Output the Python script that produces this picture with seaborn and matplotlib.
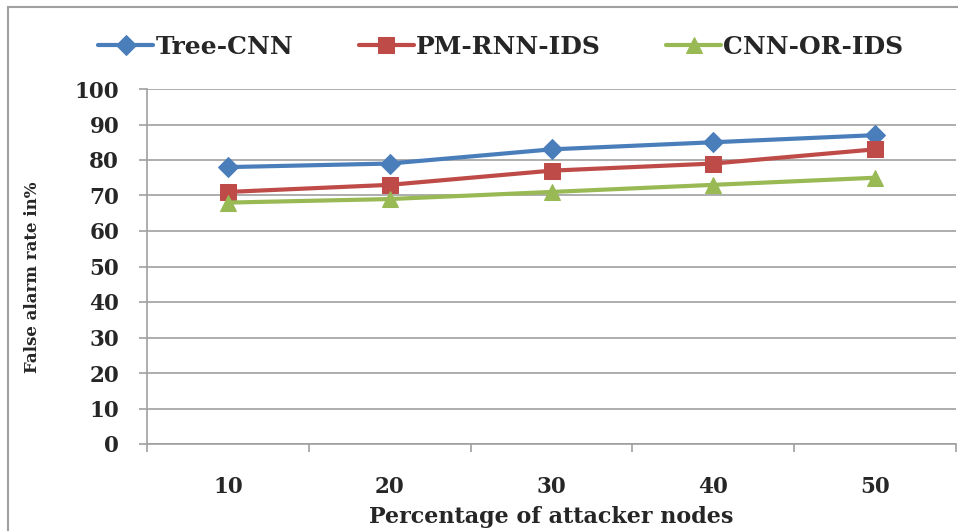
import matplotlib
matplotlib.use("Agg")
import matplotlib.pyplot as plt
import seaborn as sns
import pandas as pd
from matplotlib.patches import Rectangle

categories = ["10", "20", "30", "40", "50"]
tree_cnn = [78, 79, 83, 85, 87]
pm_rnn_ids = [71, 73, 77, 79, 83]
cnn_or_ids = [68, 69, 71, 73, 75]
series_names = ["Tree-CNN", "PM-RNN-IDS", "CNN-OR-IDS"]
y_ticks = [0, 10, 20, 30, 40, 50, 60, 70, 80, 90, 100]

sns.set_theme(style="white")
plt.rcParams['font.family'] = ['DejaVu Serif', 'Liberation Serif']
plt.rcParams['font.weight'] = 'bold'

rows = []
for name, vals in zip(series_names, [tree_cnn, pm_rnn_ids, cnn_or_ids]):
    for i, (c, v) in enumerate(zip(categories, vals)):
        rows.append({"x": i, "cat": c, "value": v, "series": name})
df = pd.DataFrame(rows)

colors = {"Tree-CNN": "#4A7EBB", "PM-RNN-IDS": "#BE4B48", "CNN-OR-IDS": "#98B954"}
markers = {"Tree-CNN": "D", "PM-RNN-IDS": "s", "CNN-OR-IDS": "^"}
msizes = {"Tree-CNN": 10, "PM-RNN-IDS": 11, "CNN-OR-IDS": 12}

fig = plt.figure(figsize=(9.58, 5.31), dpi=100)
ax = fig.add_axes([147/958, 1-444/531, (956-147)/958, (444-89)/531])

for name in series_names:
    sub = df[df["series"] == name]
    sns.lineplot(data=sub, x="x", y="value", ax=ax, color=colors[name],
                 marker=markers[name], markersize=msizes[name],
                 markeredgecolor=colors[name], linewidth=3, label=name,
                 legend=False)

ax.set_xlim(-0.5, len(categories) - 0.5)
ax.set_ylim(0, 100)
ax.set_yticks(y_ticks)
ax.set_yticklabels([str(t) for t in y_ticks])
ax.set_xticks(range(len(categories)))
ax.set_xticklabels(categories)
ax.set_xticks([i - 0.5 for i in range(len(categories) + 1)], minor=True)

grid_c = "#A0A0A0"
ax.grid(axis="y", color=grid_c, linewidth=1.2)
ax.set_axisbelow(True)
for s in ["top", "right"]:
    ax.spines[s].set_visible(False)
for s in ["left", "bottom"]:
    ax.spines[s].set_color(grid_c)
    ax.spines[s].set_linewidth(1.2)

ax.tick_params(axis="y", which="major", left=True, length=6, width=1.2,
               color=grid_c, labelsize=15.5, pad=14)
ax.tick_params(axis="x", which="major", bottom=False, labelsize=15.5, pad=17)
ax.tick_params(axis="x", which="minor", bottom=True, length=6, width=1.2,
               color=grid_c)
for lbl in ax.get_xticklabels() + ax.get_yticklabels():
    lbl.set_fontweight("bold")

ax.set_xlabel("")
ax.set_ylabel("")
fig.text(551/958, 1-517/531, "Percentage of attacker nodes", ha="center",
         va="center", fontsize=16, fontweight="bold")
fig.text(33/958, 1-277/531, "False alarm rate in%", ha="center",
         va="center", rotation=90, fontsize=12, fontweight="bold")

handles, labels = ax.get_legend_handles_labels()
fig.legend(handles, labels, loc="center", bbox_to_anchor=(501/958, 1-47/531),
           ncol=3, frameon=False, handlelength=2.2,
           columnspacing=2.6, handletextpad=0.1,
           prop={"weight": "bold", "size": 18})

fig.add_artist(Rectangle((8/958, -0.05), 1.2, 1 - 7/531 + 0.05,
                         transform=fig.transFigure, fill=False,
                         edgecolor="#A0A0A0", linewidth=1.5))

fig.savefig("out.png", dpi=100)
